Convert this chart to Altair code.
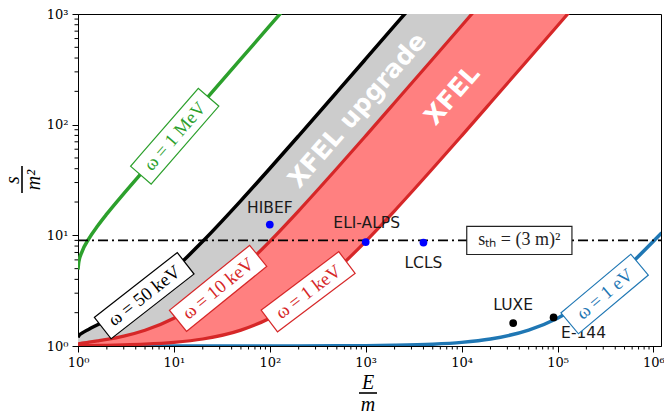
import math
import altair as alt
import pandas as pd

# ---------------- data ----------------
E_OVER_M = [1, 1.02, 1.1, 1.3, 1.6, 2, 3, 5, 10, 20, 50, 100, 200, 500,
            1e3, 2e3, 5e3, 1e4, 2e4, 5e4, 1e5, 2e5, 5e5, 1e6, 1.22e6]
S_1MEV = [4.914, 5.779, 7.099, 9.339, 12.15, 15.61, 23.81, 39.74, 79.08, 157.5,
          392.4, 783.8, 1567, 3915, 7829, 15657, 39140, 78279, 156557, 391390,
          782779, 1565557, 3913891, 7827781, 9549889]
S_50KEV = [1.196, 1.239, 1.305, 1.417, 1.558, 1.730, 2.141, 2.937, 4.904, 8.823,
           20.57, 40.14, 79.28, 196.7, 392.4, 783.8, 1958, 3915, 7829, 19570,
           39140, 78279, 195696, 391390, 477497]
S_10KEV = [1.039, 1.048, 1.061, 1.083, 1.112, 1.146, 1.228, 1.387, 1.781, 2.565,
           4.914, 8.828, 16.66, 40.14, 79.28, 157.6, 392.4, 783.8, 1567, 3915,
           7829, 15657, 39140, 78279, 95500]
S_1KEV = [1.0039, 1.0048, 1.0061, 1.0083, 1.0112, 1.0146, 1.0228, 1.0387, 1.0781,
          1.1565, 1.391, 1.783, 2.566, 4.914, 8.828, 16.66, 40.14, 79.28, 157.6,
          392.4, 783.8, 1567, 3915, 7829, 9551]
S_1EV = [1.0, 1.0, 1.0, 1.0, 1.0, 1.0, 1.0, 1.0, 1.0001, 1.0002, 1.0004, 1.0008,
         1.0016, 1.0039, 1.0078, 1.0157, 1.0391, 1.0783, 1.157, 1.391, 1.783,
         2.566, 4.914, 8.828, 10.55]
S_TH = 9

FAC_NAMES = ["HIBEF", "ELI-ALPS", "LCLS", "LUXE", "E-144"]
FAC_X = [100, 1000, 4000, 34500, 91000]
FAC_Y = [12.5, 8.7, 8.6, 1.61, 1.81]
FAC_KIND = ["xfel", "xfel", "xfel", "laser", "laser"]

X_TICKS = [1, 10, 100, 1e3, 1e4, 1e5, 1e6]
Y_TICKS = [1, 10, 100, 1000]
X_MINOR = [m * 10 ** k for k in range(6) for m in range(2, 10)]
Y_MINOR = [m * 10 ** k for k in range(3) for m in range(2, 10)]

# ---------------- layout / style ----------------
W, H = 583, 332
X_DOM = [1, 1.2e6]
Y_DOM = [1, 1000]
GREEN, BLUE, RED, BLACK = "#2ca02c", "#1f77b4", "#d62728", "#000000"
SERIF = "Liberation Serif"
TICKFONT = "DejaVu Serif"
SANS = "DejaVu Sans"

xs = alt.Scale(type="log", domain=X_DOM)
ys = alt.Scale(type="log", domain=Y_DOM)

curves = pd.DataFrame({"x": E_OVER_M, "g": S_1MEV, "k50": S_50KEV,
                       "k10": S_10KEV, "k1": S_1KEV, "b": S_1EV})

sup = "['\u2070','\u00b9','\u00b2','\u00b3','\u2074','\u2075','\u2076']"
lab_expr = "'10' + " + sup + "[round(log(datum.value)/LN10)]"

X_AX = alt.Axis(values=X_TICKS, labelExpr=lab_expr, title=None, grid=False,
                tickSize=6, labelPadding=4, labelFont=TICKFONT, labelFontSize=13,
                labelColor="black", domainColor="black", tickColor="black",
                labelFlush=False, labelOverlap=False)
Y_AX = alt.Axis(values=Y_TICKS, labelExpr=lab_expr, title=None, grid=False,
                tickSize=6, labelPadding=4, labelFont=TICKFONT, labelFontSize=13,
                labelColor="black", domainColor="black", tickColor="black",
                labelFlush=False, labelOverlap=False)


def X(f):
    return alt.X(f, scale=xs, axis=X_AX)


def Y(f):
    return alt.Y(f, scale=ys, axis=Y_AX)


layers = []

# filled bands
layers.append(alt.Chart(curves).mark_area(color="#cccccc", clip=True, interpolate="monotone").encode(
    x=X("x:Q"), y=Y("k50:Q"), y2="k10:Q"))
layers.append(alt.Chart(curves).mark_area(color="#ff8080", clip=True, interpolate="monotone").encode(
    x=X("x:Q"), y=Y("k10:Q"), y2="k1:Q"))

# curves
for col, colr, sw in [("b", BLUE, 3.5), ("g", GREEN, 3.5), ("k50", BLACK, 3.5),
                      ("k10", RED, 3.2), ("k1", RED, 3.2)]:
    layers.append(alt.Chart(curves).mark_line(color=colr, strokeWidth=sw, clip=True,
                                              interpolate="monotone").encode(
        x=X("x:Q"), y=Y(f"{col}:Q")))

# threshold line
layers.append(alt.Chart(pd.DataFrame({"y": [S_TH]})).mark_rule(
    color="black", strokeWidth=1.6, strokeDash=[10, 4, 2, 4]).encode(
    y=Y("y:Q"), x=alt.value(0), x2=alt.value(W)))

# facilities
fac = pd.DataFrame({"x": FAC_X, "y": FAC_Y, "name": FAC_NAMES, "kind": FAC_KIND})
layers.append(alt.Chart(fac).mark_point(filled=True, size=60, opacity=1).encode(
    x=X("x:Q"), y=Y("y:Q"),
    color=alt.Color("kind:N", scale=alt.Scale(domain=["xfel", "laser"], range=["#0000ff", "#000000"]),
                    legend=None)))
FAC_OFF = {"HIBEF": (0, -17), "ELI-ALPS": (1, -19), "LCLS": (0, 20),
           "LUXE": (0, -18), "E-144": (30, 16)}
for name, (ddx, ddy) in FAC_OFF.items():
    layers.append(alt.Chart(fac).transform_filter(alt.datum.name == name).mark_text(
        font=SANS, fontSize=15.5, color="#1a1a1a", dx=ddx, dy=ddy, baseline="middle").encode(
        x=X("x:Q"), y=Y("y:Q"), text="name:N"))


# big band labels
def band_text(cx, cy, txt):
    d = pd.DataFrame({"x": [cx], "y": [cy], "t": [txt]})
    return alt.Chart(d).mark_text(angle=311, font=SANS, fontWeight="bold", fontSize=25,
                                  color="white", baseline="middle", align="center").encode(
        x=X("x:Q"), y=Y("y:Q"), text="t:N")


layers.append(band_text(817, 135, "XFEL upgrade"))
layers.append(band_text(7980, 185, "XFEL"))


# boxed curve labels
def label_box(cx, cy, ang, length, txt, colr, thick=26, fs=18.5):
    rad = math.radians(ang)
    half = (length - thick) / 2
    dx = half * math.cos(rad)
    dy = half * math.sin(rad)
    d = pd.DataFrame({"x": [cx], "y": [cy], "t": [txt]})
    enc = dict(x=X("x:Q"), y=Y("y:Q"), x2=alt.X2("x:Q"), y2=alt.Y2("y:Q"))
    outer = alt.Chart(d).mark_rule(color=colr, strokeWidth=thick + 2.4, strokeCap="square",
                                   xOffset=-dx, x2Offset=dx, yOffset=dy, y2Offset=-dy).encode(**enc)
    inner = alt.Chart(d).mark_rule(color="white", strokeWidth=thick, strokeCap="square",
                                   xOffset=-dx, x2Offset=dx, yOffset=dy, y2Offset=-dy).encode(**enc)
    text = alt.Chart(d).mark_text(angle=(360 - ang) % 360, font=SERIF, fontSize=fs, color=colr,
                                  baseline="middle", align="center").encode(
        x=X("x:Q"), y=Y("y:Q"), text="t:N")
    return [outer, inner, text]


layers += label_box(10.2, 78.7, 49, 102, "\u03c9 = 1 MeV", GREEN)
layers += label_box(4.9, 2.85, 38, 104, "\u03c9 = 50 keV", BLACK)
layers += label_box(28.9, 3.32, 39, 102, "\u03c9 = 10 keV", RED)
layers += label_box(251, 3.09, 37, 96, "\u03c9 = 1 keV", RED)
layers += label_box(3.1e5, 2.95, 40, 90, "\u03c9 = 1 eV", BLUE)
layers += label_box(4.0e4, S_TH, 0, 104, "s\u209c\u2095 = (3 m)\u00b2", "#222222", thick=27, fs=18)

# minor ticks
layers.append(alt.Chart(pd.DataFrame({"v": X_MINOR})).mark_rule(color="black", strokeWidth=1).encode(
    x=X("v:Q"), y=alt.value(H), y2=alt.value(H + 3.5)))
layers.append(alt.Chart(pd.DataFrame({"v": Y_MINOR})).mark_rule(color="black", strokeWidth=1).encode(
    y=Y("v:Q"), x=alt.value(0), x2=alt.value(-3.5)))


# axis titles as fractions
def txt(t, x, y, ang=0, fs=20):
    return alt.Chart(pd.DataFrame({"t": [t]})).mark_text(
        font=SERIF, fontStyle="italic", fontSize=fs, color="black", angle=ang,
        baseline="middle", align="center").encode(x=alt.value(x), y=alt.value(y), text="t:N")


layers.append(txt("s", -65, 166, 270))
layers.append(txt("m\u00b2", -44, 166, 270))
layers.append(alt.Chart(pd.DataFrame({"a": [0]})).mark_rule(color="black", strokeWidth=1.6).encode(
    x=alt.value(-56), x2=alt.value(-56), y=alt.value(152), y2=alt.value(179)))
layers.append(txt("E", 290, 369))
layers.append(txt("m", 290, 391))
layers.append(alt.Chart(pd.DataFrame({"a": [0]})).mark_rule(color="black", strokeWidth=1.6).encode(
    y=alt.value(379), y2=alt.value(379), x=alt.value(281), x2=alt.value(299)))

chart = alt.layer(*layers).properties(
    width=W, height=H,
    autosize=alt.AutoSizeParams(type="none"),
    padding={"left": 78, "top": 14, "right": 3, "bottom": 69},
).configure_view(stroke="black", strokeWidth=1)

chart.save("out.html", embed_options={"renderer": "svg", "actions": False})
